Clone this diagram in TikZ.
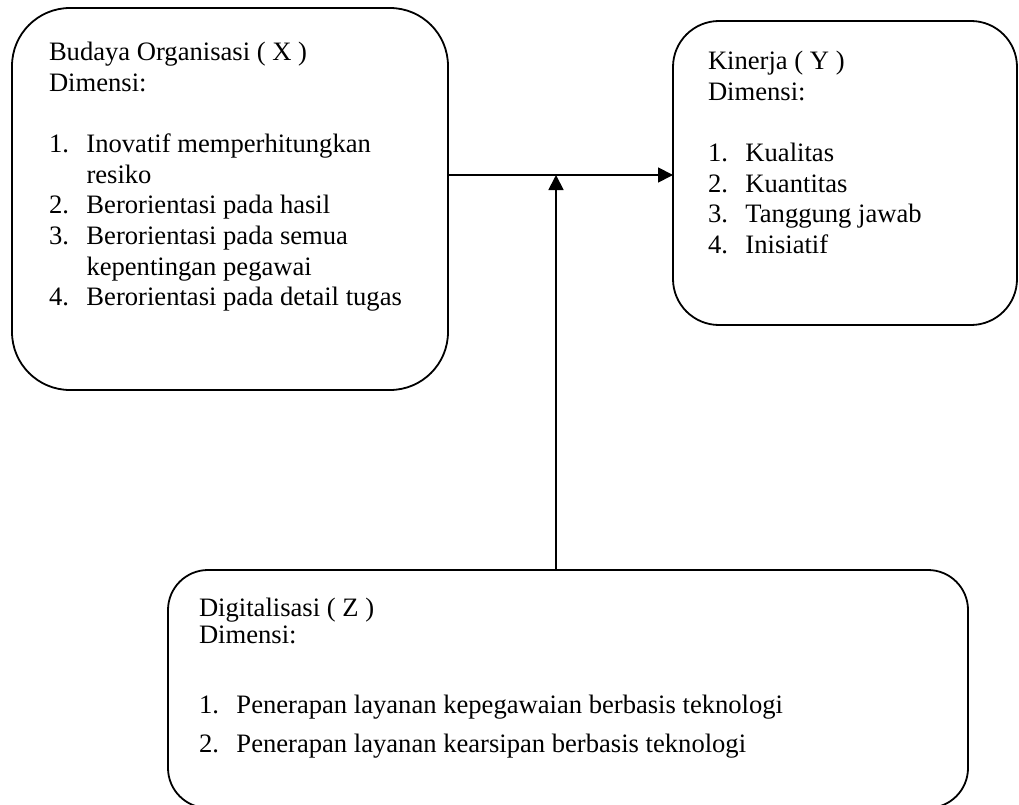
\documentclass[tikz,border=0pt]{standalone}
\usepackage{fontspec}
\setmainfont{Liberation Serif}
\usetikzlibrary{arrows.meta}
\newcommand\itm[2]{\makebox[37.5pt][l]{#1}#2}
\newcommand\cont[1]{\hspace*{37.5pt}#1}
\tikzset{
  box/.style={draw, line width=1.8pt, inner sep=0pt, outer sep=0pt, anchor=north west},
  txt/.style={anchor=base west, inner sep=0pt, outer sep=0pt, font=\fontsize{26.6pt}{30.6pt}\selectfont},
  conn/.style={line width=1.8pt, -{Triangle[length=15pt,width=15pt]}}
}
\begin{document}
\begin{tikzpicture}[x=1pt,y=-1pt]
\useasboundingbox (0,0) rectangle (1019,805);
% boxes
\node[box, rounded corners=58pt, minimum width=436pt, minimum height=382pt] (X) at (12,8) {};
\node[box, rounded corners=46pt, minimum width=344pt, minimum height=304pt] (Y) at (673,21) {};
\node[box, rounded corners=40pt, minimum width=800pt, minimum height=238pt] (Z) at (168,570) {};
% texts
\node[txt] (Xt) at (49,61) {\begin{tabular}[t]{@{}l@{}}
Budaya Organisasi ( X )\\
Dimensi:\\
\\
\itm{1.}{Inovatif memperhitungkan}\\
\cont{resiko}\\
\itm{2.}{Berorientasi pada hasil}\\
\itm{3.}{Berorientasi pada semua}\\
\cont{kepentingan pegawai}\\
\itm{4.}{Berorientasi pada detail tugas}
\end{tabular}};
\node[txt] (Yt) at (708,70) {\begin{tabular}[t]{@{}l@{}}
Kinerja ( Y )\\
Dimensi:\\
\\
\itm{1.}{Kualitas}\\
\itm{2.}{Kuantitas}\\
\itm{3.}{Tanggung jawab}\\
\itm{4.}{Inisiatif}
\end{tabular}};
\node[txt] (Zt) at (199,616) {\begin{tabular}[t]{@{}l@{}}
Digitalisasi ( Z )\\[-3.6pt]
Dimensi:\\[39.4pt]
\itm{1.}{Penerapan layanan kepegawaian berbasis teknologi}\\[8.4pt]
\itm{2.}{Penerapan layanan kearsipan berbasis teknologi}
\end{tabular}};
% connectors
\coordinate (J) at (556,175);
\draw[conn] (X.east |- J) -- (Y.west |- J);
\draw[conn] (Z.north -| J) -- (J);
\end{tikzpicture}
\end{document}
